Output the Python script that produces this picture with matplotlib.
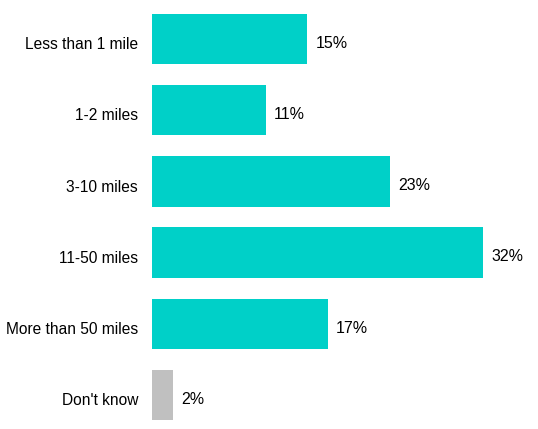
import matplotlib.pyplot as plt

categories = ["Less than 1 mile", "1-2 miles", "3-10 miles", "11-50 miles",
              "More than 50 miles", "Don't know"]
values = [15, 11, 23, 32, 17, 2]
colors = ["#00D0C8"] * 5 + ["#C0C0C0"]

plt.rcParams['font.family'] = ['Liberation Sans', 'DejaVu Sans']

fig = plt.figure(figsize=(5.38, 4.29), dpi=100)
ax = fig.add_axes([152 / 538, 0, 1 - 152 / 538, 1])

y = list(range(len(categories)))
ax.barh(y, values, height=0.71, color=colors)

for yi, v in zip(y, values):
    ax.text(v + 0.8, yi + 0.06, f"{v}%", va='center', ha='left', fontsize=11.5)

ax.set_xlim(0, (538 - 152) / 10.34)
ax.set_ylim(5.477, -0.548)
ax.set_yticks([yi + 0.06 for yi in y])
ax.set_yticklabels(categories, fontsize=11.2)
ax.tick_params(axis='y', length=0, pad=10)
ax.set_xticks([])
for s in ax.spines.values():
    s.set_visible(False)

fig.savefig("out.png", dpi=100)
